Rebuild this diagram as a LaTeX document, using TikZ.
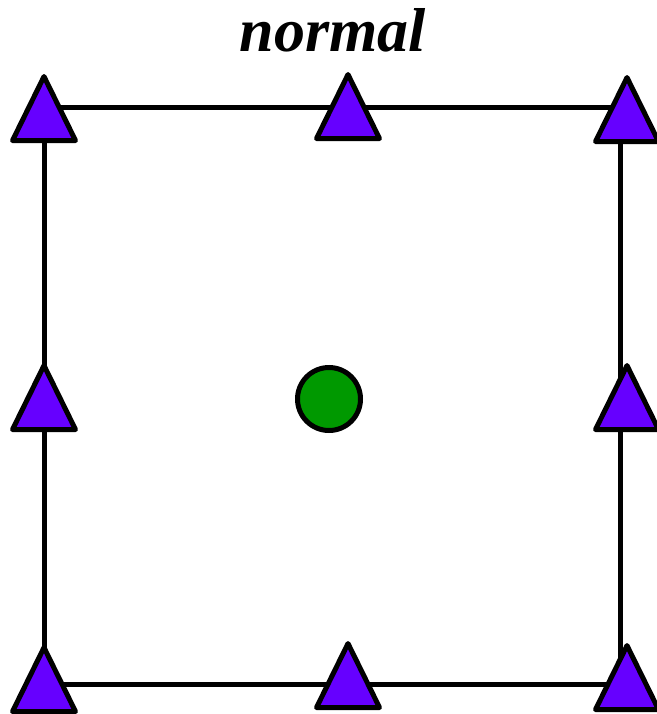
\documentclass[tikz,border=0pt]{standalone}
\usepackage{fontspec}
\setmainfont{Liberation Serif}
\usetikzlibrary{shapes.geometric}

\tikzset{
  edge/.style={line width=5pt},
  vertex/.style={isosceles triangle, isosceles triangle stretches,
    shape border rotate=90, minimum width=63pt, minimum height=64pt,
    inner sep=0pt, draw, line width=5pt, line join=round, anchor=apex,
    fill={rgb,255:red,102;green,0;blue,255}},
  centre/.style={circle, minimum size=63pt, inner sep=0pt, draw,
    line width=5pt, fill={rgb,255:red,0;green,153;blue,0}},
}

\begin{document}
\begin{tikzpicture}[x=1pt,y=-1pt]
  \useasboundingbox (0,0) rectangle (656,714);
  % title
  \node[anchor=base] (title) at (333,52) {\fontsize{62}{68}\selectfont\bfseries\itshape normal};
  % square
  \coordinate (nw) at (44,108);
  \coordinate (ne) at (620,108);
  \coordinate (se) at (620,684);
  \coordinate (sw) at (44,684);
  \draw[edge] (nw) -- (ne) -- (se) -- (sw) -- cycle;
  % points on the square
  \node[vertex] (tl) at (44,70) {};
  \node[vertex] (tm) at (348,68) {};
  \node[vertex] (tr) at (627,71) {};
  \node[vertex] (ml) at (44,359) {};
  \node[vertex] (mr) at (627,359) {};
  \node[vertex] (bl) at (44,641) {};
  \node[vertex] (bm) at (348,637) {};
  \node[vertex] (br) at (627,639) {};
  % centre point
  \node[centre] (c) at (329,399) {};
\end{tikzpicture}
\end{document}
